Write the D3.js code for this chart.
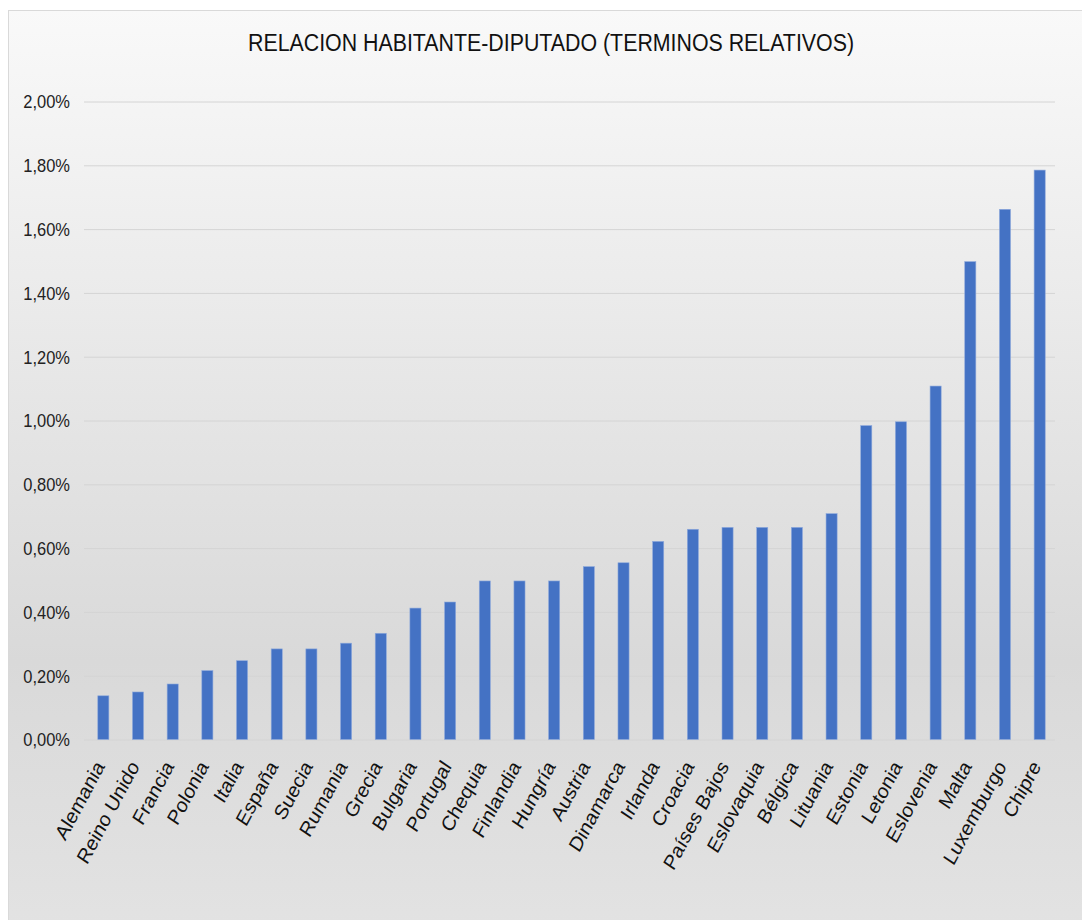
<!DOCTYPE html>
<html>
<head>
<meta charset="utf-8">
<script src="https://cdn.jsdelivr.net/npm/d3@7"></script>
<style>
  html, body { margin: 0; padding: 0; background: #fff; }
  svg { display: block; font-family: "Liberation Sans", Arial, sans-serif; }
</style>
</head>
<body>
<svg id="chart"></svg>
<script>
// data (values in %)
var paises = ["Alemania", "Reino Unido", "Francia", "Polonia", "Italia", "España", "Suecia",
  "Rumania", "Grecia", "Bulgaria", "Portugal", "Chequia", "Finlandia", "Hungría", "Austria",
  "Dinamarca", "Irlanda", "Croacia", "Países Bajos", "Eslovaquia", "Bélgica", "Lituania",
  "Estonia", "Letonia", "Eslovenia", "Malta", "Luxemburgo", "Chipre"];
var valores = [0.137, 0.149, 0.174, 0.216, 0.247, 0.284, 0.284,
  0.302, 0.333, 0.412, 0.431, 0.497, 0.497, 0.497, 0.542,
  0.554, 0.621, 0.659, 0.665, 0.665, 0.665, 0.708,
  0.984, 0.996, 1.108, 1.498, 1.662, 1.785];
var yTicks = [0, 0.2, 0.4, 0.6, 0.8, 1.0, 1.2, 1.4, 1.6, 1.8, 2.0];
var titulo = "RELACION HABITANTE-DIPUTADO (TERMINOS RELATIVOS)";

var W = 1082, H = 920;
var squish = 0.89;
var margin = { top: 101.5, right: 27, bottom: 180.5, left: 84 };
var width = W - margin.left - margin.right,
  height = H - margin.top - margin.bottom;

var svg = d3.select("#chart").attr("width", W).attr("height", H);

var defs = svg.append("defs");
var grad = defs.append("linearGradient")
  .attr("id", "bg").attr("x1", 0).attr("y1", 0).attr("x2", 0).attr("y2", 1);
grad.append("stop").attr("offset", "0%").attr("stop-color", "#f9f9f9");
grad.append("stop").attr("offset", "70%").attr("stop-color", "#d9d9d9");
grad.append("stop").attr("offset", "100%").attr("stop-color", "#e3e3e3");

// chart area
svg.append("rect")
  .attr("x", 8.5).attr("y", 10.5)
  .attr("width", W + 10).attr("height", H + 10)
  .attr("fill", "url(#bg)")
  .attr("stroke", "#d9d9d9")
  .attr("stroke-width", 1);

svg.append("text")
  .attr("transform", "translate(551,51) scale(" + squish + ",1)")
  .attr("text-anchor", "middle")
  .attr("font-size", 24)
  .attr("fill", "#111")
  .text(titulo);

var g = svg.append("g").attr("transform", "translate(" + margin.left + "," + margin.top + ")");

var x = d3.scaleBand()
  .domain(paises)
  .range([2, width + 2])
  .paddingInner(0.68)
  .paddingOuter(0.34);

var y = d3.scaleLinear()
  .domain([0, 2])
  .range([height, 0]);

var fmt = function(d) {
  return d3.format(".2f")(d).replace(".", ",") + "%";
};

var yAxis = g.append("g")
  .call(d3.axisLeft(y).tickValues(yTicks).tickSize(-width).tickFormat(fmt));
yAxis.select(".domain").remove();
yAxis.selectAll(".tick line").attr("stroke", "#d4d4d4").attr("stroke-width", 1);
yAxis.selectAll(".tick text")
  .attr("x", 0).attr("dy", "0.35em")
  .attr("transform", "translate(-14,0) scale(" + squish + ",1)")
  .attr("font-size", 18.5)
  .attr("fill", "#222");

g.selectAll(".bar")
  .data(valores)
  .enter().append("rect")
  .attr("class", "bar")
  .attr("x", function(d, i) { return x(paises[i]); })
  .attr("y", function(d) { return y(d); })
  .attr("width", x.bandwidth())
  .attr("height", function(d) { return height - y(d); })
  .attr("fill", "#4472c4")
  .attr("stroke", "#8faadc")
  .attr("stroke-width", 0.6);

var xAxis = g.append("g")
  .attr("transform", "translate(0," + height + ")")
  .call(d3.axisBottom(x).tickSize(0));
xAxis.select(".domain").remove();
xAxis.selectAll(".tick text")
  .attr("x", 0).attr("y", 0).attr("dy", 0)
  .attr("text-anchor", "end")
  .attr("transform", "translate(2,27) scale(" + squish + ",1) rotate(-59)")
  .attr("font-size", 21)
  .attr("fill", "#111");
</script>
</body>
</html>
